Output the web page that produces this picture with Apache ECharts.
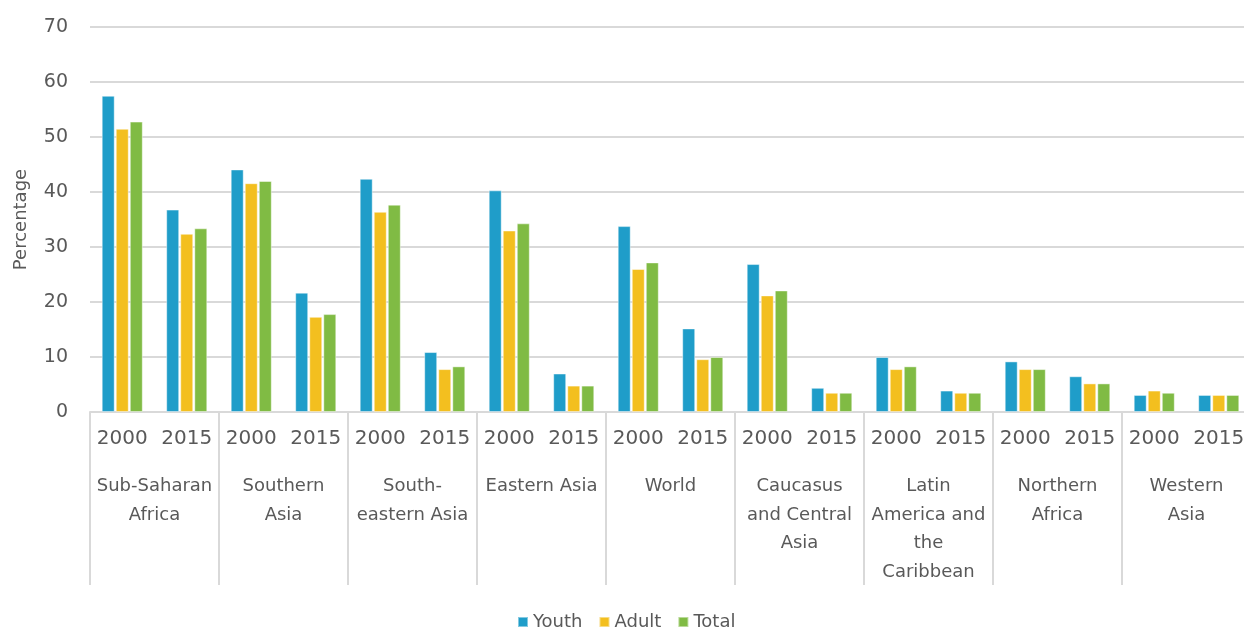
<!DOCTYPE html>
<html>
<head>
<meta charset="utf-8">
<script src="https://cdn.jsdelivr.net/npm/echarts@6/dist/echarts.min.js"></script>
<style>
  html, body { margin: 0; padding: 0; background: #fff; overflow: hidden; }
  #chart { width: 1244px; height: 628px; }
</style>
</head>
<body>
<div id="chart"></div>
<script>
// Regions (outer axis) and years (inner axis)
const regions = [
  'Sub-Saharan\nAfrica', 'Southern\nAsia', 'South-\neastern Asia', 'Eastern Asia',
  'World', 'Caucasus\nand Central\nAsia', 'Latin\nAmerica and\nthe\nCaribbean',
  'Northern\nAfrica', 'Western\nAsia'
];
const years = ['2000', '2015'];

// Percentages, two entries (2000, 2015) per region in region order
const youth = [57.5, 36.8, 44.1, 21.7, 42.4, 10.9, 40.3, 7.0, 33.8, 15.2, 26.9, 4.4, 10.0, 3.9, 9.2, 6.5, 3.1, 3.1];
const adult = [51.5, 32.4, 41.6, 17.3, 36.4, 7.8, 33.0, 4.8, 26.0, 9.6, 21.2, 3.5, 7.8, 3.5, 7.8, 5.2, 3.9, 3.1];
const total = [52.8, 33.4, 42.0, 17.8, 37.7, 8.3, 34.3, 4.8, 27.2, 10.0, 22.1, 3.5, 8.3, 3.5, 7.8, 5.2, 3.5, 3.1];

const yTicks = { min: 0, max: 70, interval: 10 };

const yearCats = [];
regions.forEach(() => years.forEach(y => yearCats.push(y)));

const textColor = '#595959';
const gridColor = '#d9d9d9';
const font = 'DejaVu Sans';

const chart = echarts.init(document.getElementById('chart'));

function barSeries(name, data, color) {
  return {
    name: name,
    type: 'bar',
    xAxisIndex: 0,
    data: data,
    barWidth: 13,
    barGap: '8%',
    itemStyle: { color: color, borderColor: 'rgba(255,255,255,0.45)', borderWidth: 1 }
  };
}

chart.setOption({
  animation: false,
  textStyle: { fontFamily: font },
  // plot runs slightly past the right edge of the canvas
  grid: { left: 90, width: 1161, top: 27, bottom: 216, containLabel: false, outerBoundsMode: 'none' },
  legend: {
    top: 608,
    left: 512,
    icon: 'rect',
    itemWidth: 10,
    itemHeight: 10,
    itemGap: 16,
    textStyle: { fontSize: 18, color: textColor, fontFamily: font },
    data: ['Youth', 'Adult', 'Total']
  },
  yAxis: {
    type: 'value',
    min: yTicks.min,
    max: yTicks.max,
    interval: yTicks.interval,
    name: 'Percentage',
    nameLocation: 'middle',
    nameGap: 60,
    nameTextStyle: { fontSize: 18, color: textColor, fontFamily: font },
    axisLabel: { fontSize: 19, color: textColor, margin: 22, fontFamily: font },
    axisLine: { show: false },
    axisTick: { show: false },
    splitLine: { lineStyle: { color: gridColor, width: 2 } }
  },
  xAxis: [
    {
      type: 'category',
      data: yearCats,
      position: 'bottom',
      axisLine: { show: true, lineStyle: { color: gridColor, width: 2 } },
      axisTick: { show: false },
      axisLabel: { interval: 0, fontSize: 20, color: textColor, margin: 17, fontFamily: font }
    },
    {
      type: 'category',
      data: regions,
      position: 'bottom',
      axisLine: { show: false },
      axisTick: { show: true, length: 173, lineStyle: { color: gridColor, width: 2 } },
      axisLabel: {
        interval: 0, fontSize: 18, color: textColor, margin: 60,
        lineHeight: 28.7, fontFamily: font, align: 'center'
      },
      splitLine: { show: false }
    }
  ],
  series: [
    barSeries('Youth', youth, '#1f9dc9'),
    barSeries('Adult', adult, '#f3bf1f'),
    barSeries('Total', total, '#80bb44')
  ]
});
</script>
</body>
</html>
